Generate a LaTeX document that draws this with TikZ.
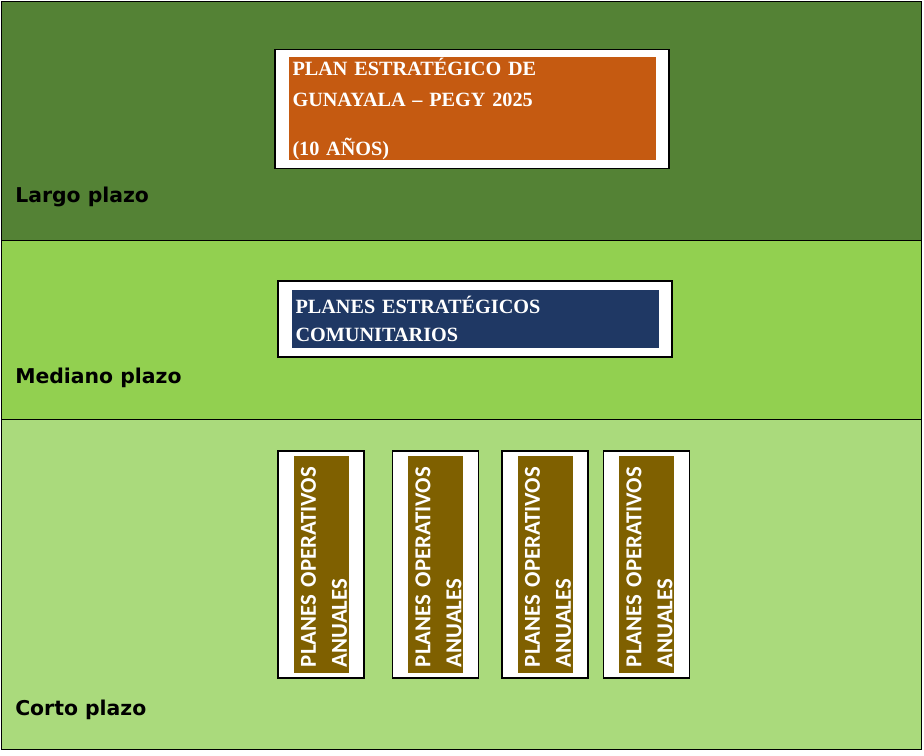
\documentclass[tikz,border=0pt]{standalone}
\usepackage{fontspec}
\usepackage{tikz}
\usetikzlibrary{positioning}
\newfontfamily\plazofont{DejaVu Sans}
\newfontfamily\planfont{Liberation Serif}
\newfontfamily\poafont{Carlito}
\definecolor{LargoGreen}{RGB}{84,130,53}
\definecolor{MedianoGreen}{RGB}{146,208,80}
\definecolor{CortoGreen}{RGB}{170,218,124}
\definecolor{PegyOrange}{RGB}{197,90,17}
\definecolor{PecBlue}{RGB}{31,56,100}
\definecolor{PoaBrown}{RGB}{127,96,0}

\begin{document}
\begin{tikzpicture}[
  frame/.style={draw=black,line width=0.8pt,fill=white,inner sep=0pt},
  plan/.style={text=white,inner xsep=0.1cm,inner ysep=0pt,align=left,
               text width=8.975cm,minimum width=9.175cm},
  poa/.style={fill=PoaBrown,text=white,rotate=90,inner xsep=0.15cm,inner ysep=0pt,
              align=left,text width=5.125cm,minimum width=5.425cm,minimum height=1.375cm,
              font=\poafont\bfseries\fontsize{16.2pt}{22pt}\selectfont},
  plazo/.style={anchor=base west,inner sep=0pt,
                font=\plazofont\bfseries\fontsize{14.5pt}{17pt}\selectfont},
]
\useasboundingbox (0,0) rectangle (23.1,18.875);
% bands
\fill[LargoGreen] (0.025,12.875) rectangle (23.025,18.85);
\fill[MedianoGreen] (0.025,8.4) rectangle (23.025,12.875);
\fill[CortoGreen] (0.025,0.15) rectangle (23.025,8.4);
\draw[line width=0.5pt] (0.025,0.15) rectangle (23.025,18.85);
\draw[line width=0.5pt] (0.025,12.875) -- (23.025,12.875);
\draw[line width=0.5pt] (0.025,8.4) -- (23.025,8.4);

\node[plazo] (largo) at (0.375,13.8) {Largo plazo};
\node[plazo] (mediano) at (0.375,9.275) {Mediano plazo};
\node[plazo] (corto) at (0.375,1.0) {Corto plazo};

% long term
\node[frame,minimum width=9.85cm,minimum height=2.975cm] (pegyframe) at (11.8,16.15) {};
\node[plan,fill=PegyOrange,minimum height=2.575cm,
      font=\planfont\bfseries\fontsize{14.4pt}{22pt}\selectfont] (pegy) at (pegyframe.center)
  {PLAN ESTRATÉGICO DE\\GUNAYALA – PEGY 2025\\[0.45cm](10 AÑOS)};

% medium term
\node[frame,minimum width=9.85cm,minimum height=1.9cm] (pecframe) at (11.875,10.9) {};
\node[plan,fill=PecBlue,minimum height=1.45cm,
      font=\planfont\bfseries\fontsize{14.4pt}{19.9pt}\selectfont] (pec) at (pecframe.center)
  {PLANES ESTRATÉGICOS\\COMUNITARIOS};

% short term
\foreach \x [count=\i] in {8.025,10.8875,13.625,16.1625}{
  \node[frame,minimum width=2.15cm,minimum height=5.675cm] (poaframe\i) at (\x,4.7625) {};
  \node[poa] (poa\i) at (poaframe\i.center) {\rule{0pt}{0.52cm}PLANES OPERATIVOS\\ANUALES};
}
\end{tikzpicture}
\end{document}
